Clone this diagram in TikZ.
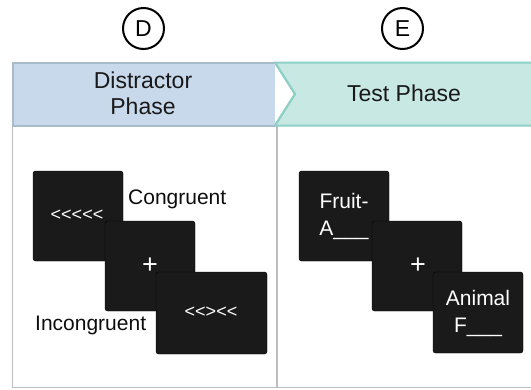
\documentclass[tikz,border=0pt]{standalone}
\usepackage{fontspec}
\setmainfont{Liberation Sans}
\definecolor{bluefill}{HTML}{C9D9EC}
\definecolor{blueline}{HTML}{A8BCC9}
\definecolor{tealfill}{HTML}{C8E8E4}
\definecolor{tealline}{HTML}{8DD0C6}
\definecolor{panelline}{HTML}{BDBDBD}
\definecolor{screen}{HTML}{1A1A1A}
\begin{document}
\begin{tikzpicture}[x=1pt,y=-1pt,
  badge/.style={circle,draw=black,line width=2pt,minimum size=41pt,inner sep=0pt,font=\fontsize{23}{23}\selectfont},
  headtext/.style={align=center,font=\fontsize{23}{26}\selectfont,text=black!90},
  screenbox/.style={fill=screen,rounded corners=2.5pt},
  screentext/.style={text=white,align=center,font=\fontsize{21}{27}\selectfont},
  plustext/.style={text=white,font=\fontsize{27}{27}\selectfont},
  arrowtext/.style={text=white,font=\fontsize{18}{18}\selectfont},
  label/.style={text=black!95,font=\fontsize{21}{21}\selectfont,inner sep=0pt}]
\useasboundingbox (0,0) rectangle (531,389);
\begin{scope}
\clip (0,0) rectangle (531,389);
% panel frame
\draw[panelline,line width=1.8pt] (12.5,126) -- (12.5,387.5) -- (540,387.5);
\draw[panelline,line width=1.5pt] (277,126) -- (277,387.5);
% phase banners
\draw[fill=tealfill,draw=tealline,line width=2pt] (540,62.5) -- (275,62.5) -- (295,94) -- (275,125.5) -- (540,125.5);
\draw[fill=bluefill,draw=blueline,line width=2pt] (275,62.5) -- (12.5,62.5) -- (12.5,125.5) -- (275,125.5);
\draw[tealline,line width=2pt,line join=round] (275,62.5) -- (295,94) -- (275,125.5);
\end{scope}
\node[badge] (bd) at (143.5,28.5) {D};
\node[badge] (be) at (402.5,28.5) {E};
\node[headtext] (hd) at (143,93) {Distractor\\Phase};
\node[headtext] (he) at (404,93) {Test Phase};
% distractor screens
\draw[screenbox] (33,171) rectangle (123,261);
\draw[screenbox] (105,221) rectangle (195,311);
\draw[screenbox] (156,272) rectangle (267,354);
\node[arrowtext] (d1) at (77,215) {<{}<{}<{}<{}<};
\node[plustext] (d2) at (150,266) {+};
\node[arrowtext] (d3) at (211,312) {<{}<{}>{}<{}<};
\node[label,anchor=west] (lc) at (128,199) {Congruent};
\node[label,anchor=west] (li) at (35,325) {Incongruent};
% test screens
\draw[screenbox] (299,171) rectangle (389,261);
\draw[screenbox] (372,221) rectangle (462,311);
\draw[screenbox] (433,272) rectangle (523,353);
\node[screentext] (t1) at (344,216) {Fruit-\\A\_\_\_};
\node[plustext] (t2) at (418,266) {+};
\node[screentext] (t3) at (478,313) {Animal\\F\_\_\_};
\end{tikzpicture}
\end{document}
